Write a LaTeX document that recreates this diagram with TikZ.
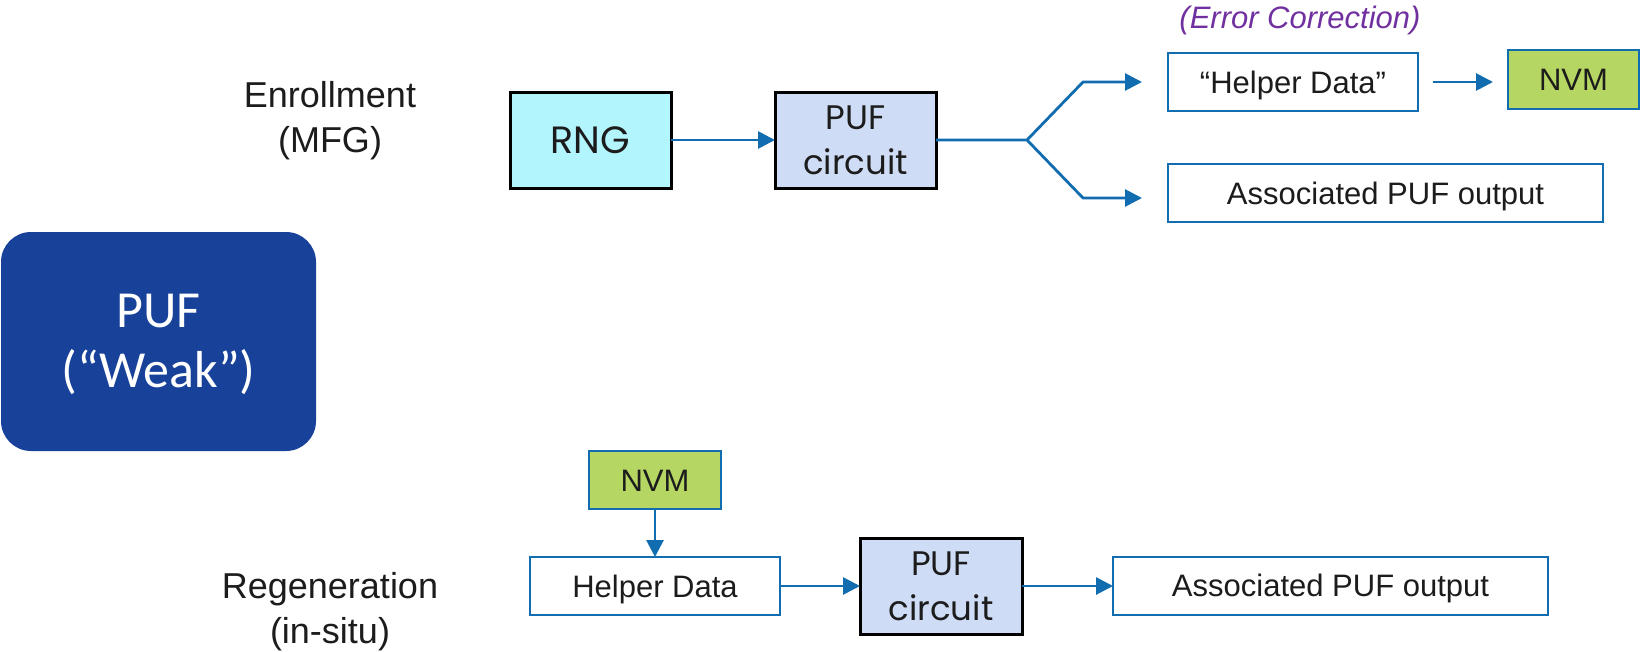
\documentclass[tikz,border=0pt]{standalone}
\usepackage{fontspec}
\setmainfont{Liberation Sans}
\newfontfamily\geofont{Poppins}
\newfontfamily\roundfont{Carlito}
\usetikzlibrary{arrows.meta}

\definecolor{flowblue}{RGB}{18,108,176}
\definecolor{pufnavy}{RGB}{24,65,153}
\definecolor{rngcyan}{RGB}{178,245,253}
\definecolor{circlav}{RGB}{207,220,245}
\definecolor{nvmgreen}{RGB}{181,214,98}
\definecolor{ecpurple}{RGB}{112,48,160}
\definecolor{ink}{RGB}{28,28,28}

\tikzset{
  box/.style={draw, inner sep=0pt, outer sep=0pt, anchor=center},
  databox/.style={box, draw=flowblue, line width=2pt, fill=white,
    text=ink, font=\fontsize{31}{36}\selectfont,
    text height=22pt, text depth=0pt},
  nvmbox/.style={databox, fill=nvmgreen},
  blockbox/.style={box, draw=black, line width=3pt, text=ink, align=center,
    font=\geofont\fontsize{34}{45}\selectfont},
  stagelabel/.style={text=ink, anchor=base, inner sep=0pt,
    font=\fontsize{36}{45}\selectfont},
  flowline/.style={draw=flowblue, line width=2.8pt},
  flow/.style={flowline, -{Triangle[length=17pt,width=17pt]}},
}

\begin{document}
\begin{tikzpicture}[x=1pt,y=-1pt]
\useasboundingbox (0,0) rectangle (1641,651);

% PUF type badge
\node[fill=pufnavy, rounded corners=30pt, inner sep=0pt,
      minimum width=315pt, minimum height=219pt] (weak) at (158.5,341.5) {};
\node[text=white, align=center, inner sep=0pt,
      font=\roundfont\fontsize{52}{60}\selectfont] (weaktxt) at (158.5,344)
      {PUF\\(“Weak”)};

% Enrollment stage
\node[stagelabel] (enr) at (330,107) {Enrollment};
\node[stagelabel] (mfg) at (330,152) {(MFG)};

\node[blockbox, fill=rngcyan, minimum width=161pt, minimum height=96pt,
      font=\geofont\fontsize{38}{45}\selectfont] (rng1) at (590.5,140) {RNG};
\node[blockbox, fill=circlav, minimum width=161pt, minimum height=96pt]
      (puf1) at (855.5,140) {PUF\\circuit};

\node[databox, minimum width=250pt, minimum height=58pt] (helper1) at (1293,82)
      {“Helper Data”};
\node[nvmbox, minimum width=131pt, minimum height=59pt] (nvm1) at (1573.5,79.5)
      {NVM};
\node[databox, minimum width=435pt, minimum height=58pt] (assoc1) at (1385.5,193)
      {Associated PUF output};

\node[text=ecpurple, anchor=base, inner sep=0pt,
      font=\itshape\fontsize{31}{36}\selectfont] (ec) at (1300,28)
      {(Error Correction)};

\coordinate (fork) at (1027,140);
\coordinate (upbend) at (1083,82);
\coordinate (lowbend) at (1083,198);
\coordinate (lowtip) at (1142,198);

\draw[flow] (rng1) -- (puf1);
\draw[flow, line join=miter] (puf1.east) -- (fork) -- (upbend)
      -- ([xshift=-26pt]helper1.west);
\draw[flow, line join=miter] (fork) -- (lowbend) -- (lowtip);
\draw[flow, shorten <=15pt, shorten >=15pt] (helper1.east) -- (helper1.east -| nvm1.west);

% Regeneration stage
\node[stagelabel] (regen) at (330,598) {Regeneration};
\node[stagelabel] (insitu) at (330,643) {(in-situ)};

\node[nvmbox, minimum width=132pt, minimum height=58pt] (nvm2) at (655,480) {NVM};
\node[databox, minimum width=250pt, minimum height=58pt] (helper2) at (655,586)
      {Helper Data};
\node[blockbox, fill=circlav, minimum width=162pt, minimum height=96pt]
      (puf2) at (941,586) {PUF\\circuit};
\node[databox, minimum width=435pt, minimum height=58pt] (assoc2) at (1330.5,585.5)
      {Associated PUF output};

\draw[flow] (nvm2) -- (helper2);
\draw[flow] (helper2) -- (puf2);
\draw[flow] (puf2.east) -- (puf2.east -| assoc2.west);
\end{tikzpicture}
\end{document}
